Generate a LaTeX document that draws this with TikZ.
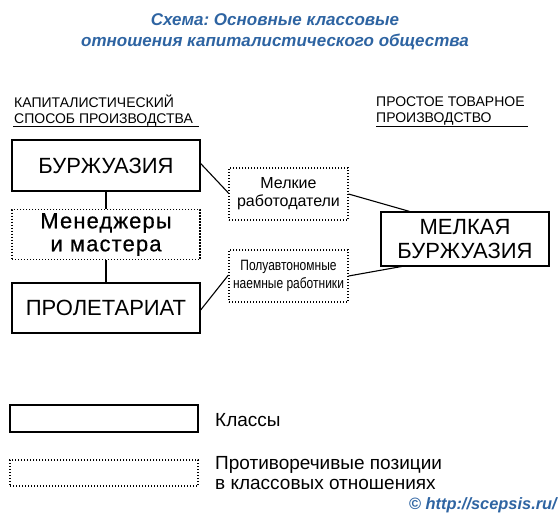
\documentclass[tikz,border=0pt]{standalone}
\usepackage{fontspec}
\setmainfont{Liberation Sans}
\usepackage{graphicx}
\frenchspacing
\definecolor{ttl}{RGB}{46,100,162}
\begin{document}
\begin{tikzpicture}[x=1pt,y=-1pt,
  cls/.style={draw, line width=1.3pt, inner sep=0pt, align=center},
  contra/.style={draw, line width=1.1pt, dash pattern=on 1.2pt off 1.8pt, inner sep=0pt, align=center},
  conn/.style={line width=1.1pt},
  big/.style={font=\fontsize{22}{24}\selectfont},
  mid/.style={font=\fontsize{16}{18}\selectfont},
  hdr/.style={font=\fontsize{14}{16}\selectfont, anchor=base west, inner sep=0pt},
  ttlf/.style={font=\fontsize{17}{20}\selectfont\bfseries\itshape\frenchspacing, text=ttl}]
\useasboundingbox (0,0) rectangle (560,515);
% title
\node[ttlf] (t1) at (275,20) {Схема: Основные классовые};
\node[ttlf] (t2) at (275,42) {отношения капиталистического общества};
% headers
\node[hdr] (h1) at (14,107.5) {КАПИТАЛИСТИЧЕСКИЙ};
\node[hdr] (h2) at (14,123) {СПОСОБ ПРОИЗВОДСТВА};
\draw[line width=1pt] (13,126.5) -- (199,126.5);
\node[hdr] (h3) at (376,106.5) {ПРОСТОЕ ТОВАРНОЕ};
\node[hdr] (h4) at (376,122) {ПРОИЗВОДСТВО};
\draw[line width=1pt] (376,126.5) -- (528,126.5);
% boxes
\node[cls, big, minimum width=188pt, minimum height=51pt] (burzh) at (106,165.5) {БУРЖУАЗИЯ};
\node[contra, font=\fontsize{22}{23}\selectfont\addfontfeatures{LetterSpace=5,FakeBold=0.5}, minimum width=188pt, minimum height=50pt] (men) at (106,234.5) {Менеджеры\\и мастера};
\node[cls, big, minimum width=188pt, minimum height=50pt] (prol) at (106,308) {ПРОЛЕТАРИАТ};
\node[contra, mid, minimum width=119pt, minimum height=52pt] (melk) at (288.5,194) {Мелкие\\работодатели};
\node[contra, font=\fontsize{15}{17.5}\selectfont, minimum width=119pt, minimum height=52pt] (polu) at (288.5,276)
  {\scalebox{0.8}[1]{Полуавтономные}\\\scalebox{0.8}[1]{наемные работники}};
\node[cls, big, minimum width=168pt, minimum height=54pt] (mb) at (465,239) {МЕЛКАЯ\\БУРЖУАЗИЯ};
% connectors
\draw[conn] (burzh.south) -- (men.north);
\draw[conn] (men.south) -- (prol.north);
\draw[conn] ([yshift=2pt]burzh.east) -- ([yshift=1pt]melk.west);
\draw[conn] ([yshift=-2pt]prol.east) -- ([yshift=1pt]polu.west);
\draw[conn] (melk.east) -- ([xshift=29pt]mb.north west);
\draw[conn] (polu.east) -- ([xshift=26pt,yshift=1pt]mb.south west);
% legend
\node[cls, minimum width=188pt, minimum height=27pt] (lg1) at (104,418.5) {};
\node[contra, minimum width=188pt, minimum height=26pt] (lg2) at (104,473) {};
\node[anchor=west, inner sep=0pt, font=\fontsize{19}{20}\selectfont] (lt1) at (215,420) {Классы};
\node[anchor=west, inner sep=0pt, align=left, font=\fontsize{19}{20}\selectfont] (lt2) at (215,473) {Противоречивые позиции\\в классовых отношениях};
\node[font=\fontsize{16.4}{18}\selectfont\bfseries\itshape, text=ttl, anchor=east, inner sep=0pt] (src) at (557,505) {©~http://scepsis.ru/};
\end{tikzpicture}
\end{document}
